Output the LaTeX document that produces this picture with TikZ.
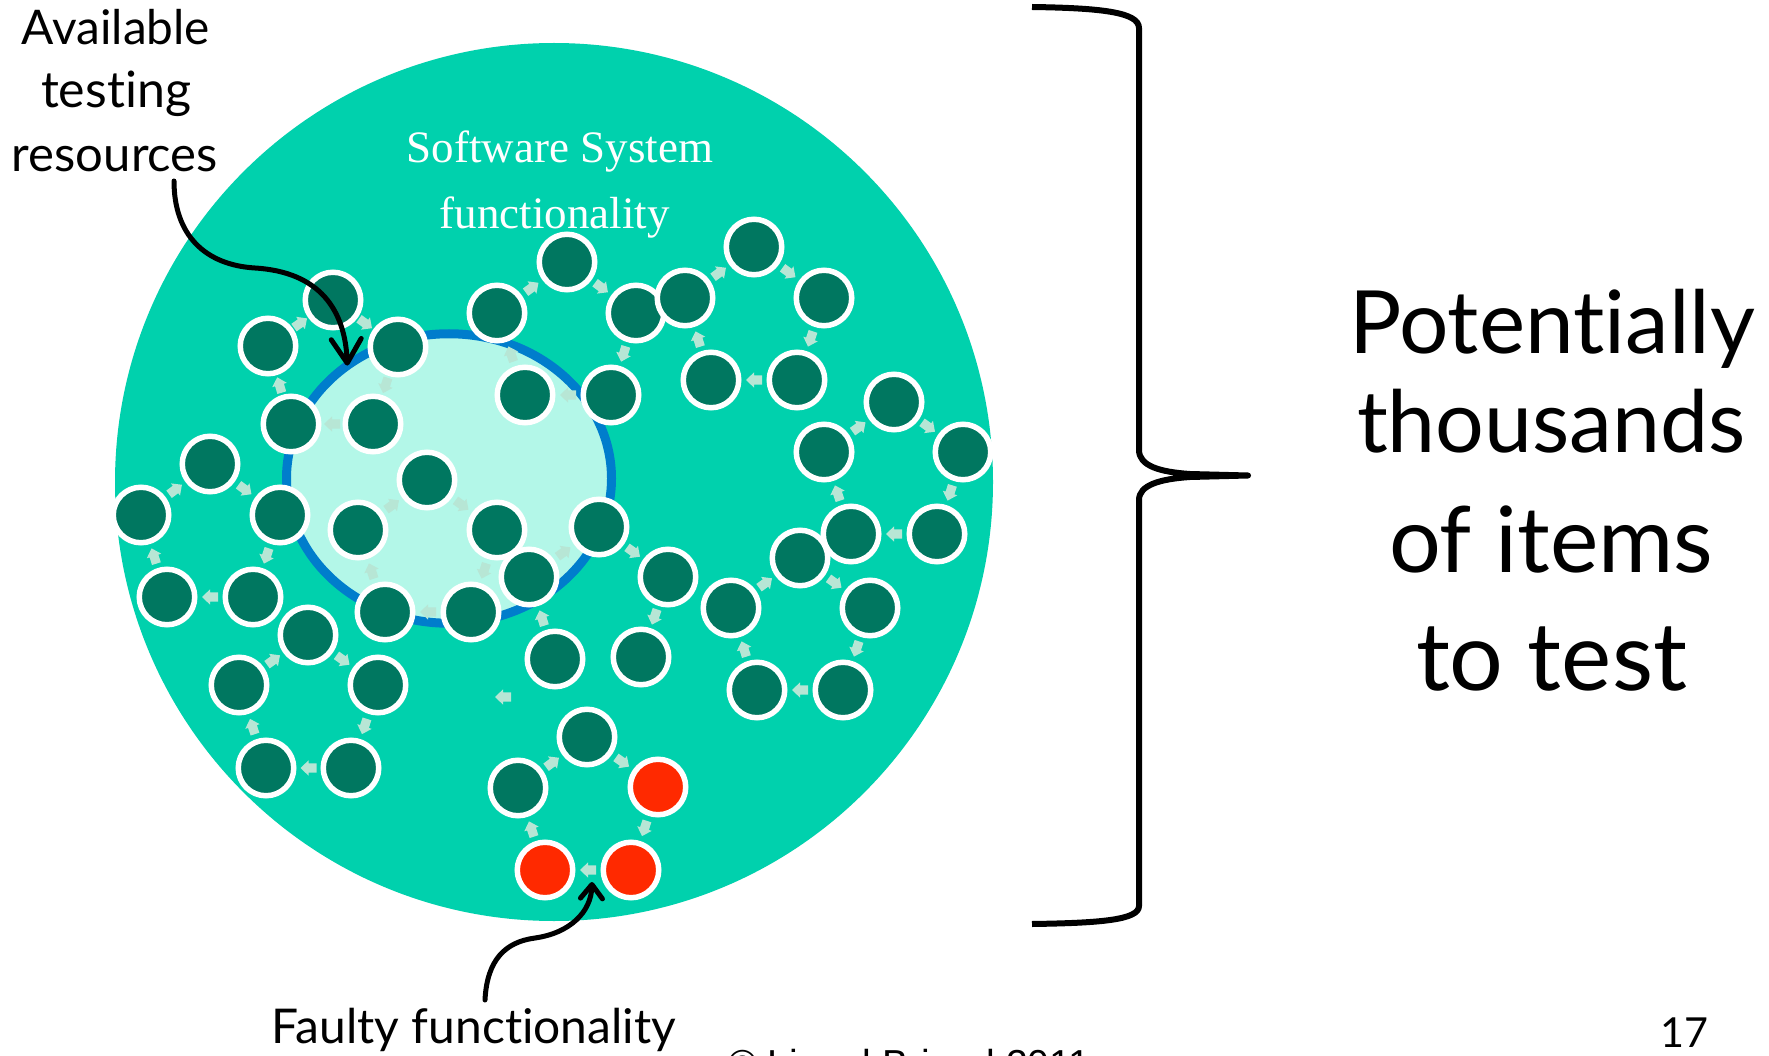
\documentclass[tikz,border=0pt]{standalone}
\usepackage{fontspec}
\setmainfont{Liberation Serif}
\newfontfamily\handfont[Ligatures=NoCommon]{Lato}
\newfontfamily\arialfont{Liberation Sans}
\usetikzlibrary{arrows.meta,shapes.geometric}

\definecolor{systeal}{RGB}{0,209,173}
\definecolor{funcdark}{RGB}{0,119,96}
\definecolor{poolfill}{RGB}{179,247,232}
\definecolor{poolblue}{RGB}{0,125,204}
\definecolor{faultred}{RGB}{255,41,0}
\definecolor{flowmint}{RGB}{183,230,213}

% hand-lettered text, stretched to a given width
\newcommand{\hand}[2]{\resizebox{#1pt}{!}{\handfont\fontsize{60}{72}\selectfont #2}}
% small block arrow half way between two functionality items
\newcommand{\flowarrow}[2]{\path (#1) -- pic[sloped, allow upside down] {flowtip} (#2);}

\begin{document}
\begin{tikzpicture}[x=1pt, y=-1pt,
  every node/.style={inner sep=0pt, outer sep=0pt},
  func/.style={circle, fill=funcdark, draw=white, line width=5.5pt, minimum size=55.5pt},
  faulty/.style={func, fill=faultred},
  flowtip/.pic={\fill[flowmint] (-8,-4.6) -- (0,-4.6) -- (0,-7.6) -- (8,0)
                 -- (0,7.6) -- (0,4.6) -- (-8,4.6) -- cycle;},
  notearrow/.style={draw=black, line width=5pt, line cap=round,
               -{Straight Barb[length=24pt, width=30pt, round]}},
  bracestroke/.style={draw=black, line width=6pt, line join=round},
]
\useasboundingbox (0,0) rectangle (1769,1056);
\fill[white] (0,0) rectangle (1769,1056);

% the whole system and the part covered by the testing resources
\node[circle, fill=systeal, minimum size=878pt] (system) at (554,482) {};
\node[ellipse, fill=poolfill, draw=poolblue, line width=9pt,
      minimum width=325pt, minimum height=289.5pt] (respool) at (449,478.5) {};

\node[anchor=base, text=white, font=\fontsize{45}{54}\selectfont] (lbl-sys1) at (560,163) {Software System};
\node[anchor=base, text=white, font=\fontsize{45}{54}\selectfont] (lbl-sys2) at (554.5,229) {functionality};

% functionality items
\node[func] (c1) at (333,300) {};
\node[func] (c2) at (268,346) {};
\node[func] (c3) at (398,347) {};
\node[func] (c4) at (291,424) {};
\node[func] (c5) at (373,424) {};

\node[func] (c6) at (497,313) {};
\node[func] (c7) at (567,262) {};
\node[func] (c8) at (636,313) {};
\node[func] (c9) at (525,395) {};
\node[func] (c10) at (611,395) {};

\node[func] (c11) at (685,298) {};
\node[func] (c12) at (754,247) {};
\node[func] (c13) at (824,298) {};
\node[func] (c14) at (711,380) {};
\node[func] (c15) at (797,380) {};

\node[func] (c21) at (800,558) {};
\node[func] (c22) at (731,608) {};
\node[func] (c23) at (870,608) {};
\node[func] (c24) at (757,690) {};
\node[func] (c25) at (843,690) {};

\node[func] (c16) at (894,402) {};
\node[func] (c17) at (824,452) {};
\node[func] (c18) at (963,452) {};
\node[func] (c19) at (851,534) {};
\node[func] (c20) at (937,534) {};

\node[func] (c26) at (210,464) {};
\node[func] (c27) at (141,515) {};
\node[func] (c28) at (280,515) {};
\node[func] (c29) at (167,597) {};
\node[func] (c30) at (253,597) {};

\node[func] (c31) at (308,635) {};
\node[func] (c32) at (239,685) {};
\node[func] (c33) at (378,685) {};
\node[func] (c34) at (266,768) {};
\node[func] (c35) at (351,768) {};

\node[func] (c36) at (427,480) {};
\node[func] (c37) at (358,530) {};
\node[func] (c38) at (497,530) {};
\node[func] (c41) at (385,612) {};
\node[func] (c42) at (471,612) {};

\node[func] (c39) at (599,527) {};
\node[func] (c40) at (529,577) {};
\node[func] (c43) at (668,577) {};
\node[func] (c44) at (555,659) {};
\node[func] (c45) at (641,657) {};

\node[func] (c46) at (587,737) {};
\node[func] (c47) at (518,788) {};
\node[faulty] (c48) at (658,787) {};
\node[faulty] (c49) at (545,870) {};
\node[faulty] (c50) at (631,870) {};

% control flow between items
\flowarrow{c2}{c1}\flowarrow{c1}{c3}\flowarrow{c3}{c5}\flowarrow{c5}{c4}\flowarrow{c4}{c2}
\flowarrow{c6}{c7}\flowarrow{c7}{c8}\flowarrow{c8}{c10}\flowarrow{c10}{c9}\flowarrow{c9}{c6}
\flowarrow{c11}{c12}\flowarrow{c12}{c13}\flowarrow{c13}{c15}\flowarrow{c15}{c14}\flowarrow{c14}{c11}
\flowarrow{c17}{c16}\flowarrow{c16}{c18}\flowarrow{c18}{c20}\flowarrow{c20}{c19}\flowarrow{c19}{c17}
\flowarrow{c22}{c21}\flowarrow{c21}{c23}\flowarrow{c23}{c25}\flowarrow{c25}{c24}\flowarrow{c24}{c22}
\flowarrow{c27}{c26}\flowarrow{c26}{c28}\flowarrow{c28}{c30}\flowarrow{c30}{c29}\flowarrow{c29}{c27}
\flowarrow{c32}{c31}\flowarrow{c31}{c33}\flowarrow{c33}{c35}\flowarrow{c35}{c34}\flowarrow{c34}{c32}
\flowarrow{c37}{c36}\flowarrow{c36}{c38}\flowarrow{c38}{c42}\flowarrow{c42}{c41}\flowarrow{c41}{c37}
\flowarrow{c40}{c39}\flowarrow{c39}{c43}\flowarrow{c43}{c45}\flowarrow{c44}{c40}
\pic[rotate=180] at (503,697) {flowtip};
\flowarrow{c47}{c46}\flowarrow{c46}{c48}\flowarrow{c48}{c50}\flowarrow{c50}{c49}\flowarrow{c49}{c47}

% labels on the left and bottom
\node[anchor=base] (lbl-avail) at (116,45) {\hand{188}{Available}};
\node[anchor=base] (lbl-test) at (116,108) {\hand{150}{testing}};
\node[anchor=base] (lbl-res) at (115,172) {\hand{206}{resources}};
\node[anchor=base] (lbl-faulty) at (474,1043) {\hand{404}{Faulty functionality}};

\coordinate (res-tail) at (174,181);
\draw[notearrow] (res-tail) .. controls (174,235) and (205,265) .. (255,268)
  .. controls (320,272) and (345,310) .. (respool.132);

\coordinate (faulty-tail) at (485,1000);
\coordinate (faulty-head) at (592,882);
\draw[notearrow, -{Straight Barb[length=14pt, width=22pt, round]}]
  (faulty-tail) .. controls (487,960) and (505,942) .. (535,938)
  .. controls (570,933) and (591,912) .. (faulty-head);

% brace over the whole system
\draw[bracestroke] (1032,7) .. controls (1100,8) and (1139,12) .. (1139,28) -- (1139,450)
  .. controls (1139,466) and (1160,472) .. (1190,474) -- (1248,475.5) -- (1190,477)
  .. controls (1160,479) and (1139,485) .. (1139,500) -- (1139,906)
  .. controls (1139,920) and (1100,923) .. (1032,924);

\node[anchor=base] (lbl-pot1) at (1552,353) {\hand{406}{Potentially}};
\node[anchor=base] (lbl-pot2) at (1551.5,452) {\hand{389}{thousands}};
\node[anchor=base] (lbl-pot3) at (1551,572) {\hand{324}{of items}};
\node[anchor=base] (lbl-pot4) at (1551.5,690) {\hand{271}{to test}};

% footer
\node[anchor=base] (lbl-page) at (1684.5,1047) {\hand{48}{17}};
\node[anchor=base west, font=\arialfont\fontsize{39}{47}\selectfont] (lbl-copy) at (728,1077) {© Lionel Briand 2011};
\end{tikzpicture}
\end{document}
